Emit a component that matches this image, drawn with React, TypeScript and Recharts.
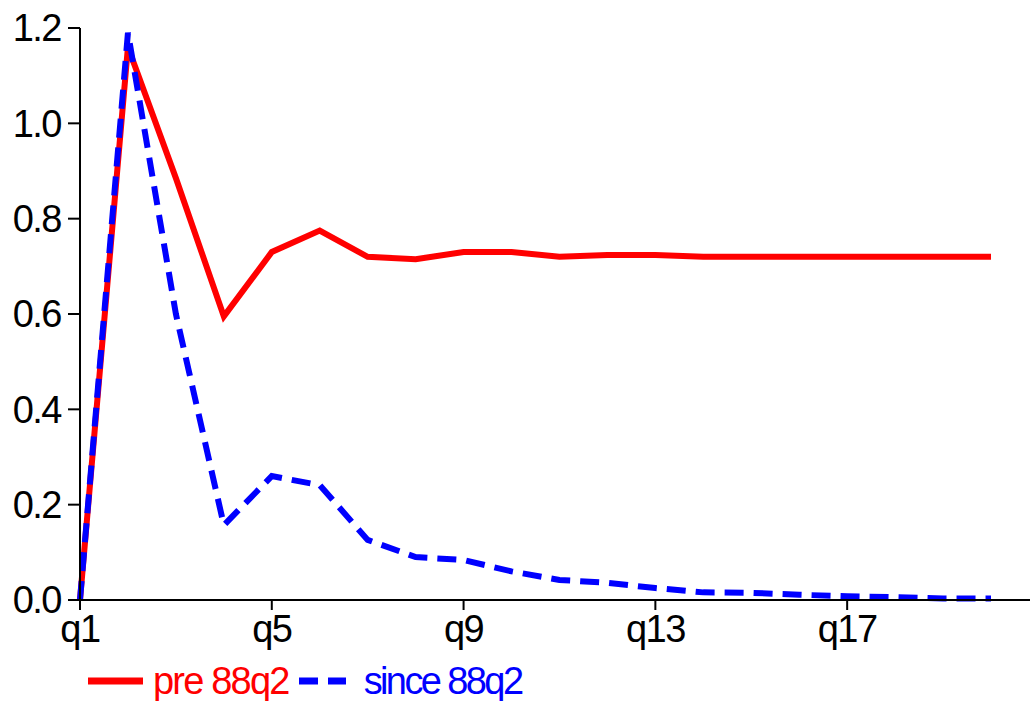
import { LineChart, Line, XAxis, YAxis, Legend } from "recharts";

const QUARTERS = [
  "q1", "q2", "q3", "q4", "q5", "q6", "q7", "q8", "q9", "q10",
  "q11", "q12", "q13", "q14", "q15", "q16", "q17", "q18", "q19", "q20",
];
const PRE_88Q2 = [0, 1.16, 0.885, 0.595, 0.73, 0.775, 0.72, 0.715, 0.73, 0.73, 0.72, 0.724, 0.724, 0.72, 0.72, 0.72, 0.72, 0.72, 0.72, 0.72];
const SINCE_88Q2 = [0, 1.19, 0.6, 0.157, 0.26, 0.241, 0.126, 0.09, 0.084, 0.06, 0.042, 0.036, 0.025, 0.016, 0.015, 0.011, 0.008, 0.006, 0.003, 0.003];
const Y_TICKS = [0, 0.2, 0.4, 0.6, 0.8, 1.0, 1.2];

const data = QUARTERS.map((q, i) => ({ q, pre: PRE_88Q2[i], since: SINCE_88Q2[i] }));

const FONT = "'Liberation Sans', Arial, sans-serif";
const tickStyle = { fontSize: 38, fill: "#000", fontFamily: FONT, letterSpacing: -1.5 };
const axisStroke = { stroke: "#000", strokeWidth: 2 };

function ChartLegend() {
  const text = { fontFamily: FONT, fontSize: 38, lineHeight: "40px" };
  return (
    <div
      style={{
        display: "flex", alignItems: "center", height: 46, boxSizing: "border-box",
        paddingTop: 6, paddingLeft: 88,
      }}
    >
      <svg width={55} height={10}>
        <line x1={0} y1={5} x2={55} y2={5} stroke="#ff0000" strokeWidth={7} />
      </svg>
      <span style={{ ...text, letterSpacing: -1.8, color: "#ff0000", marginLeft: 10 }}>pre 88q2</span>
      <svg width={47} height={10} style={{ marginLeft: 10 }}>
        <line x1={0} y1={5} x2={47} y2={5} stroke="#0000ff" strokeWidth={7} strokeDasharray="19 10" />
      </svg>
      <span style={{ ...text, letterSpacing: -2.6, color: "#0000ff", marginLeft: 18 }}>since 88q2</span>
    </div>
  );
}

export default function App() {
  return (
    <div style={{ position: "absolute", left: 0, top: 0, width: 1030, height: 701, background: "#fff" }}>
      <LineChart width={1030} height={701} data={data} margin={{ top: 28, right: 0, left: 0, bottom: 0 }}>
        <XAxis
          dataKey="q"
          interval={3}
          padding={{ left: 0, right: 39 }}
          height={55}
          tickSize={10}
          tickMargin={5}
          tick={tickStyle}
          axisLine={axisStroke}
          tickLine={axisStroke}
        />
        <YAxis
          domain={[0, 1.2]}
          ticks={Y_TICKS}
          width={80}
          tickSize={12}
          tickMargin={7}
          tick={tickStyle}
          tickFormatter={(v: number) => v.toFixed(1)}
          axisLine={axisStroke}
          tickLine={axisStroke}
        />
        <Legend verticalAlign="bottom" align="left" content={() => <ChartLegend />} />
        <Line type="linear" dataKey="pre" stroke="#ff0000" strokeWidth={6} dot={false} isAnimationActive={false} />
        <Line type="linear" dataKey="since" stroke="#0000ff" strokeWidth={6} strokeDasharray="19 10" dot={false} isAnimationActive={false} />
      </LineChart>
    </div>
  );
}
